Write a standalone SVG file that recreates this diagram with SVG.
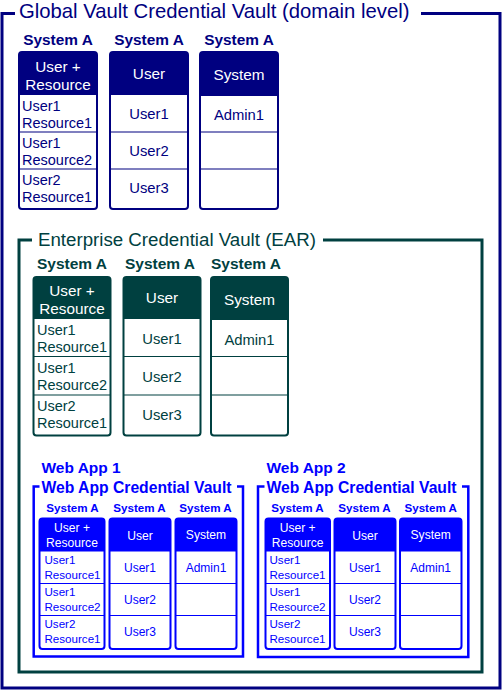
<svg xmlns="http://www.w3.org/2000/svg" width="504" height="694" viewBox="0 0 504 694">
<style>
text{font-family:"Liberation Sans",Arial,sans-serif}
.frame{fill:none;stroke-width:3}
.tb{fill:#fff;stroke-width:2}
.sep{stroke-width:1.2}
.lbl{font-weight:bold;text-anchor:middle}
.hd{fill:#fff;text-anchor:middle}
.c{text-anchor:middle}
.G{stroke:#000080}.Gf{fill:#000080}
.E{stroke:#004040}.Ef{fill:#004040}
.W{stroke:#0000FF}.Wf{fill:#0000FF}
</style>
<rect width="504" height="694" fill="#fff"/>

<g id="connectors"></g>

<g id="global-vault">
<path class="frame G" d="M15 13.5 H2 V688 H500 V13.5 H421"/>
<text x="19" y="18" font-size="20.3" class="Gf">Global Vault Credential Vault (domain level)</text>
<g font-size="15.4" class="Gf">
<text class="lbl" x="58" y="45">System A</text>
<text class="lbl" x="149" y="45">System A</text>
<text class="lbl" x="239" y="45">System A</text>
</g>
<g id="g-t1">
<rect class="tb G" x="19" y="52" width="78" height="157" rx="3"/>
<path class="Gf" d="M19 95 V55 Q19 52 22 52 H94 Q97 52 97 55 V95 Z"/>
<path class="sep G" d="M19 132 H97 M19 169 H97"/>
<g font-size="15.3"><text class="hd" x="58" y="72">User +</text><text class="hd" x="58" y="90">Resource</text></g>
<g font-size="14.5" class="Gf"><text x="22" y="110.5">User1</text><text x="22" y="127.5">Resource1</text>
<text x="22" y="147.5">User1</text><text x="22" y="164.5">Resource2</text>
<text x="22" y="184.5">User2</text><text x="22" y="201.5">Resource1</text></g>
</g>
<g id="g-t2">
<rect class="tb G" x="110" y="52" width="78" height="157" rx="3"/>
<path class="Gf" d="M110 95 V55 Q110 52 113 52 H185 Q188 52 188 55 V95 Z"/>
<path class="sep G" d="M110 132 H188 M110 169 H188"/>
<text class="hd" x="149" y="79" font-size="15.3">User</text>
<g font-size="14.8" class="Gf c"><text class="c" x="149" y="119">User1</text><text class="c" x="149" y="156">User2</text><text class="c" x="149" y="193">User3</text></g>
</g>
<g id="g-t3">
<rect class="tb G" x="200" y="52" width="78" height="157" rx="3"/>
<path class="Gf" d="M200 96 V55 Q200 52 203 52 H275 Q278 52 278 55 V96 Z"/>
<path class="sep G" d="M200 132 H278 M200 169 H278"/>
<text class="hd" x="239" y="80" font-size="15.3">System</text>
<text class="c Gf" x="239" y="120" font-size="14.8">Admin1</text>
</g>
</g>

<g id="enterprise-vault">
<path class="frame E" d="M32 240 H19 V672 H482 V240 H323"/>
<text x="38" y="245.5" font-size="18.7" class="Ef">Enterprise Credential Vault (EAR)</text>
<g font-size="15.5" class="Ef">
<text class="lbl" x="72" y="268.5">System A</text>
<text class="lbl" x="160" y="268.5">System A</text>
<text class="lbl" x="246" y="268.5">System A</text>
</g>
<g id="e-t1">
<rect class="tb E" x="33.5" y="277" width="77" height="158.5" rx="3"/>
<path class="Ef" d="M33.5 319 V280 Q33.5 277 36.5 277 H107.5 Q110.5 277 110.5 280 V319 Z"/>
<path class="sep E" d="M33.5 356.5 H110.5 M33.5 395 H110.5"/>
<g font-size="15.3"><text class="hd" x="72" y="295.5">User +</text><text class="hd" x="72" y="313.5">Resource</text></g>
<g font-size="14.5" class="Ef"><text x="37" y="335">User1</text><text x="37" y="352">Resource1</text>
<text x="37" y="373">User1</text><text x="37" y="389.5">Resource2</text>
<text x="37" y="411">User2</text><text x="37" y="427.5">Resource1</text></g>
</g>
<g id="e-t2">
<rect class="tb E" x="123.5" y="277" width="77" height="158.5" rx="3"/>
<path class="Ef" d="M123.5 319 V280 Q123.5 277 126.5 277 H197.5 Q200.5 277 200.5 280 V319 Z"/>
<path class="sep E" d="M123.5 356.5 H200.5 M123.5 395 H200.5"/>
<text class="hd" x="162" y="302.5" font-size="15.3">User</text>
<g font-size="14.8" class="Ef"><text class="c" x="162" y="343.5">User1</text><text class="c" x="162" y="382">User2</text><text class="c" x="162" y="420">User3</text></g>
</g>
<g id="e-t3">
<rect class="tb E" x="211" y="277" width="77" height="158.5" rx="3"/>
<path class="Ef" d="M211 320 V280 Q211 277 214 277 H285 Q288 277 288 280 V320 Z"/>
<path class="sep E" d="M211 356.5 H288 M211 395 H288"/>
<text class="hd" x="249.5" y="304.5" font-size="15.3">System</text>
<text class="c Ef" x="249.5" y="344.5" font-size="14.8">Admin1</text>
</g>
</g>

<g id="webapp1">
<text x="41.5" y="473.3" font-size="15.5" font-weight="bold" class="Wf">Web App 1</text>
<path class="W" fill="none" stroke-width="2.5" d="M39.5 486.5 H33.7 V656.5 H243 V486.5 H237"/>
<text x="41.5" y="493.3" font-size="15.7" font-weight="bold" class="Wf">Web App Credential Vault</text>
<g font-size="11.6" class="Wf">
<text class="lbl" x="72.5" y="511.7">System A</text>
<text class="lbl" x="139.5" y="511.7">System A</text>
<text class="lbl" x="205.5" y="511.7">System A</text>
</g>
<g id="w1-t1">
<rect class="tb W" x="39.5" y="518.5" width="65" height="130.5" rx="3"/>
<path class="Wf" d="M39.5 551.5 V521.5 Q39.5 518.5 42.5 518.5 H101.5 Q104.5 518.5 104.5 521.5 V551.5 Z"/>
<path class="sep W" d="M39.5 583.5 H104.5 M39.5 615.5 H104.5"/>
<g font-size="12.1"><text class="hd" x="72" y="531.5">User +</text><text class="hd" x="72" y="546.5">Resource</text></g>
<g font-size="11.6" class="Wf"><text x="44.5" y="563.5">User1</text><text x="44.5" y="578.5">Resource1</text>
<text x="44.5" y="595.5">User1</text><text x="44.5" y="610.5">Resource2</text>
<text x="44.5" y="627.5">User2</text><text x="44.5" y="642.5">Resource1</text></g>
</g>
<g id="w1-t2">
<rect class="tb W" x="109.5" y="518.5" width="61" height="130.5" rx="3"/>
<path class="Wf" d="M109.5 551.5 V521.5 Q109.5 518.5 112.5 518.5 H167.5 Q170.5 518.5 170.5 521.5 V551.5 Z"/>
<path class="sep W" d="M109.5 583.5 H170.5 M109.5 615.5 H170.5"/>
<text class="hd" x="140" y="539.5" font-size="12.1">User</text>
<g font-size="12" class="Wf"><text class="c" x="140" y="571.5">User1</text><text class="c" x="140" y="603.5">User2</text><text class="c" x="140" y="635.5">User3</text></g>
</g>
<g id="w1-t3">
<rect class="tb W" x="175.5" y="518.5" width="61" height="130.5" rx="3"/>
<path class="Wf" d="M175.5 551.5 V521.5 Q175.5 518.5 178.5 518.5 H233.5 Q236.5 518.5 236.5 521.5 V551.5 Z"/>
<path class="sep W" d="M175.5 583.5 H236.5 M175.5 615.5 H236.5"/>
<text class="hd" x="206" y="539" font-size="12.1">System</text>
<text class="c Wf" x="206" y="571.5" font-size="12">Admin1</text>
</g>
</g>

<g id="webapp2">
<text x="266.5" y="473.3" font-size="15.5" font-weight="bold" class="Wf">Web App 2</text>
<path class="W" fill="none" stroke-width="2.5" d="M264.5 486.5 H258 V657 H468.3 V486.5 H462"/>
<text x="266.5" y="493.3" font-size="15.7" font-weight="bold" class="Wf">Web App Credential Vault</text>
<g font-size="11.6" class="Wf">
<text class="lbl" x="297.5" y="511.7">System A</text>
<text class="lbl" x="364.5" y="511.7">System A</text>
<text class="lbl" x="430.7" y="511.7">System A</text>
</g>
<g id="w2-t1">
<rect class="tb W" x="265.5" y="518.5" width="64.5" height="130.5" rx="3"/>
<path class="Wf" d="M265.5 551.5 V521.5 Q265.5 518.5 268.5 518.5 H327 Q330 518.5 330 521.5 V551.5 Z"/>
<path class="sep W" d="M265.5 583.5 H330 M265.5 615.5 H330"/>
<g font-size="12.1"><text class="hd" x="297.7" y="531.5">User +</text><text class="hd" x="297.7" y="546.5">Resource</text></g>
<g font-size="11.6" class="Wf"><text x="269.5" y="563.5">User1</text><text x="269.5" y="578.5">Resource1</text>
<text x="269.5" y="595.5">User1</text><text x="269.5" y="610.5">Resource2</text>
<text x="269.5" y="627.5">User2</text><text x="269.5" y="642.5">Resource1</text></g>
</g>
<g id="w2-t2">
<rect class="tb W" x="334.5" y="518.5" width="61" height="130.5" rx="3"/>
<path class="Wf" d="M334.5 551.5 V521.5 Q334.5 518.5 337.5 518.5 H392.5 Q395.5 518.5 395.5 521.5 V551.5 Z"/>
<path class="sep W" d="M334.5 583.5 H395.5 M334.5 615.5 H395.5"/>
<text class="hd" x="365" y="539.5" font-size="12.1">User</text>
<g font-size="12" class="Wf"><text class="c" x="365" y="571.5">User1</text><text class="c" x="365" y="603.5">User2</text><text class="c" x="365" y="635.5">User3</text></g>
</g>
<g id="w2-t3">
<rect class="tb W" x="400" y="518.5" width="61.5" height="130.5" rx="3"/>
<path class="Wf" d="M400 551.5 V521.5 Q400 518.5 403 518.5 H458.5 Q461.5 518.5 461.5 521.5 V551.5 Z"/>
<path class="sep W" d="M400 583.5 H461.5 M400 615.5 H461.5"/>
<text class="hd" x="430.7" y="539" font-size="12.1">System</text>
<text class="c Wf" x="430.7" y="571.5" font-size="12">Admin1</text>
</g>
</g>
</svg>
